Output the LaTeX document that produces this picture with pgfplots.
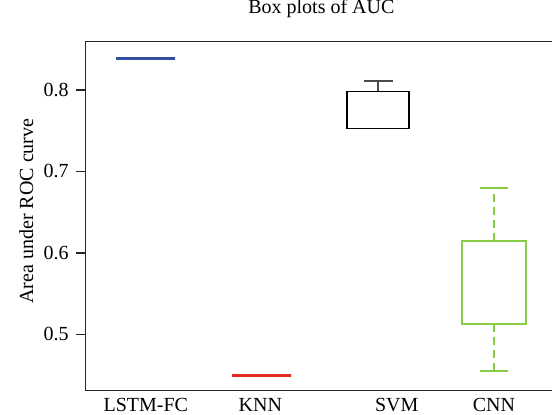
\documentclass[border=0pt]{standalone}
\usepackage{fontspec}
\setmainfont{Liberation Serif}
\usepackage{pgfplots}
\pgfplotsset{compat=1.18}
\usepgfplotslibrary{statistics}
\definecolor{lstmblue}{RGB}{52,78,165}
\definecolor{knnred}{RGB}{228,42,28}
\definecolor{cnngreen}{RGB}{135,205,65}
\begin{document}
\begin{tikzpicture}
\begin{axis}[
  at={(0,0)}, anchor=south west,
  scale only axis, width=237.15pt, height=174.6pt,
  xmin=0, xmax=4.743, ymin=0.431, ymax=0.8598,
  boxplot/draw direction=y,
  font=\fontsize{10}{12}\selectfont,
  /pgf/number format/assume math mode=true,
  axis line style={line width=0.65pt, black!85},
  xtick={0.601,1.746,3.110,4.083},
  xticklabels={LSTM-FC,KNN,SVM,CNN},
  xtick pos=bottom, ytick pos=left,
  ytick={0.5,0.6,0.7,0.8},
  yticklabel style={/pgf/number format/.cd, fixed, fixed zerofill, precision=1},
  ytick align=outside,
  xtick align=inside,
  x tick style={draw=none},
  y tick style={line width=0.65pt, black!85},
  major tick length=5pt,
  xticklabel style={anchor=base, yshift=-10.6pt},
  title={Box plots of AUC},
  title style={at={(0.497,1)}, anchor=base, yshift=7.65pt},
  ylabel={Area under ROC curve},
  ylabel style={at={(axis description cs:-0.1111,0.514)}, anchor=base},
]
\addplot[lstmblue, boxplot/draw direction=y,
  boxplot/every box/.style={line width=1.4pt},
  boxplot/every median/.style={line width=1.4pt},
  boxplot/every whisker/.style={line width=1.4pt},
  boxplot prepared={draw position=0.598,
  lower whisker=0.839, lower quartile=0.839, median=0.839,
  upper quartile=0.839, upper whisker=0.839, box extend=0.59, whisker extend=0.59}] coordinates {};
\addplot[knnred, boxplot/draw direction=y,
  boxplot/every box/.style={line width=1.4pt},
  boxplot/every median/.style={line width=1.4pt},
  boxplot/every whisker/.style={line width=1.4pt},
  boxplot prepared={draw position=1.758,
  lower whisker=0.4497, lower quartile=0.4497, median=0.4497,
  upper quartile=0.4497, upper whisker=0.4497, box extend=0.59, whisker extend=0.59}] coordinates {};
\addplot[black, boxplot/draw direction=y,
  boxplot/every box/.style={line width=0.8pt},
  boxplot/every median/.style={line width=0.8pt},
  boxplot/every whisker/.style={black!70, line width=0.8pt},
  boxplot prepared={draw position=2.923,
  lower whisker=0.7525, lower quartile=0.7525, median=0.7525,
  upper quartile=0.798, upper whisker=0.8114, box extend=0.62, whisker extend=0.29}] coordinates {};
\addplot[cnngreen, boxplot/draw direction=y,
  boxplot/every box/.style={line width=1pt},
  boxplot/every median/.style={line width=1pt},
  boxplot/draw/lower whisker/.code={
    \draw[line width=1pt, dash pattern=on 4pt off 2.5pt] (boxplot cs:\pgfplotsboxplotvalue{lower quartile}) -- (boxplot cs:\pgfplotsboxplotvalue{lower whisker});
    \draw[line width=1pt] (boxplot whisker cs:\pgfplotsboxplotvalue{lower whisker},0) -- (boxplot whisker cs:\pgfplotsboxplotvalue{lower whisker},1);
  },
  boxplot/draw/upper whisker/.code={
    \draw[line width=1pt, dash pattern=on 4pt off 2.5pt] (boxplot cs:\pgfplotsboxplotvalue{upper quartile}) -- (boxplot cs:\pgfplotsboxplotvalue{upper whisker});
    \draw[line width=1pt] (boxplot whisker cs:\pgfplotsboxplotvalue{upper whisker},0) -- (boxplot whisker cs:\pgfplotsboxplotvalue{upper whisker},1);
  },
  boxplot prepared={draw position=4.083,
  lower whisker=0.455, lower quartile=0.513, median=0.513,
  upper quartile=0.6146, upper whisker=0.680, box extend=0.64, whisker extend=0.28}] coordinates {};
\end{axis}
\pgfresetboundingbox
\path (-42.85pt,-12.25pt) rectangle (233.15pt,195.25pt);
\end{tikzpicture}
\end{document}
